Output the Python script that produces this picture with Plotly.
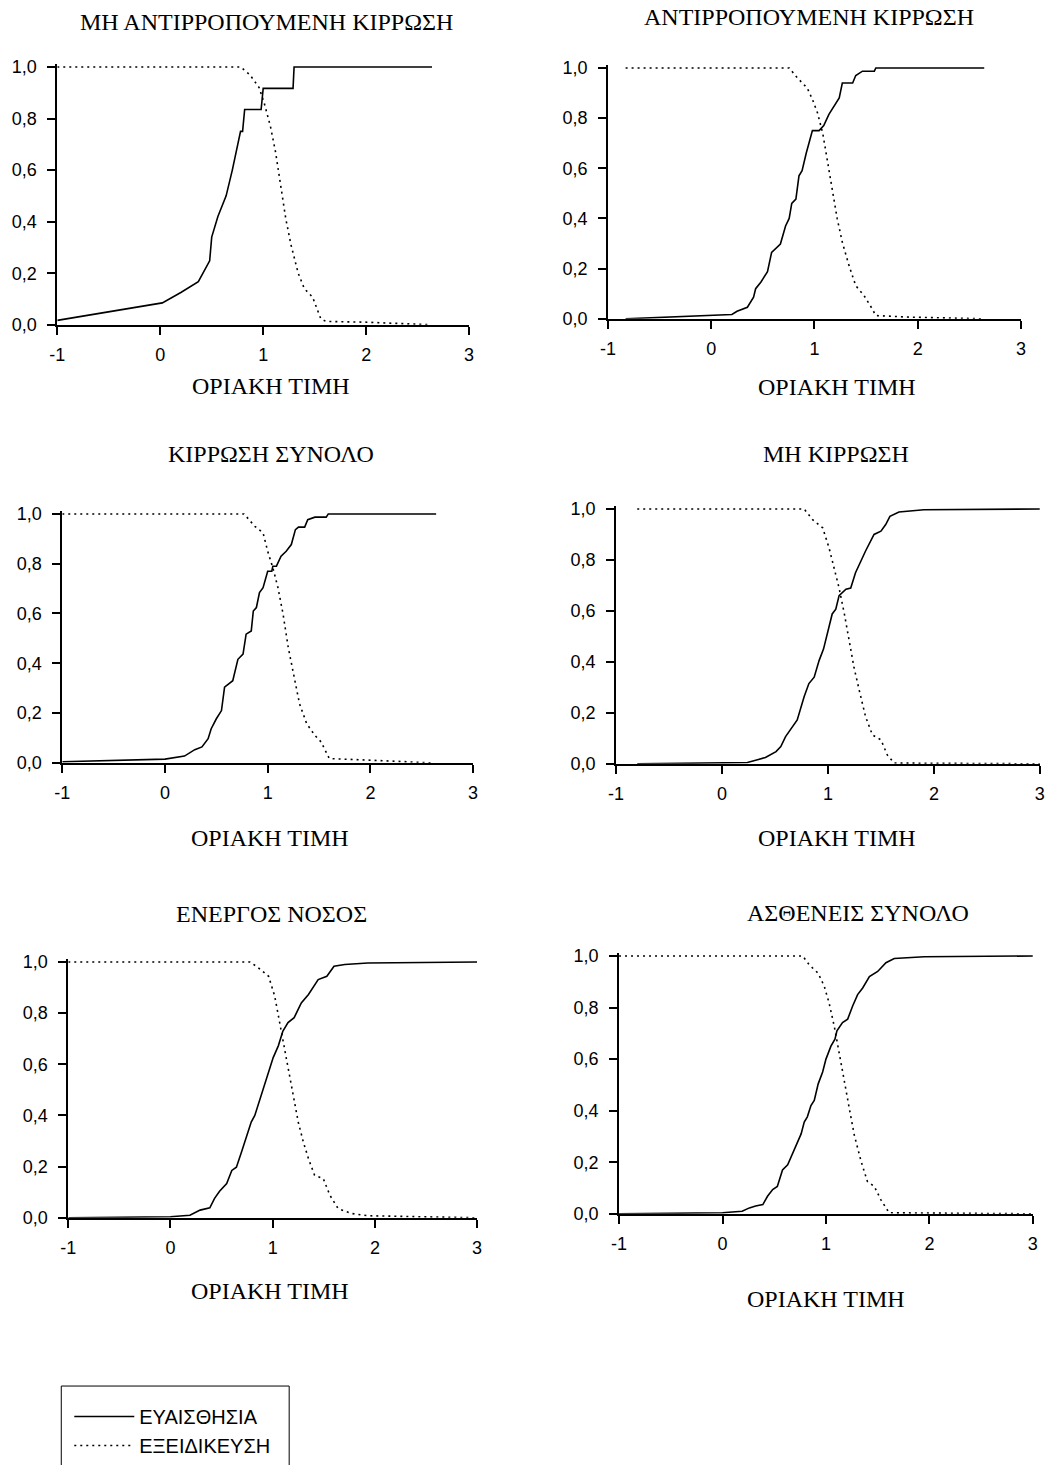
import plotly.graph_objects as go

W, H = 1047, 1465

# the returned photograph shows the page slightly inset; map reference pixels to figure pixels
SX, OX = 0.988, 6.7
SY, OY = 0.9887, 6.8


def fx(px):
    return ((px - OX) / SX) / W


def fy(py):
    return 1 - ((py - OY) / SY) / H


# ---------------- data ----------------
titles = ["ΜΗ ΑΝΤΙΡΡΟΠΟΥΜΕΝΗ ΚΙΡΡΩΣΗ", "ΑΝΤΙΡΡΟΠΟΥΜΕΝΗ ΚΙΡΡΩΣΗ",
          "ΚΙΡΡΩΣΗ ΣΥΝΟΛΟ", "ΜΗ ΚΙΡΡΩΣΗ",
          "ΕΝΕΡΓΟΣ ΝΟΣΟΣ", "ΑΣΘΕΝΕΙΣ ΣΥΝΟΛΟ"]
x_title = "ΟΡΙΑΚΗ ΤΙΜΗ"
series_names = ["ΕΥΑΙΣΘΗΣΙΑ", "ΕΞΕΙΔΙΚΕΥΣΗ"]
x_ticks = [-1, 0, 1, 2, 3]
y_ticks = [0, 0.2, 0.4, 0.6, 0.8, 1.0]

# panel 1: ΜΗ ΑΝΤΙΡΡΟΠΟΥΜΕΝΗ ΚΙΡΡΩΣΗ
p1_sens_x = [-1, 0.02, 0.2, 0.37, 0.48, 0.5, 0.56, 0.64, 0.70, 0.78, 0.80, 0.82, 0.98, 1.00, 1.29, 1.30, 2.64]
p1_sens_y = [0.017, 0.085, 0.125, 0.167, 0.248, 0.34, 0.42, 0.5, 0.6, 0.75, 0.75, 0.835, 0.835, 0.917, 0.917, 1.0, 1.0]
p1_spec_x = [-1, 0.78, 0.87, 0.96, 1.01, 1.07, 1.12, 1.17, 1.22, 1.27, 1.34, 1.40, 1.48, 1.56, 1.61, 2.01, 2.63]
p1_spec_y = [1.0, 1.0, 0.97, 0.92, 0.86, 0.77, 0.67, 0.54, 0.41, 0.31, 0.2, 0.14, 0.107, 0.023, 0.013, 0.01, 0.0]

# panel 2: ΑΝΤΙΡΡΟΠΟΥΜΕΝΗ ΚΙΡΡΩΣΗ
p2_sens_x = [-0.83, 0.0, 0.2, 0.25, 0.35, 0.41, 0.43, 0.48, 0.545, 0.585, 0.67, 0.72, 0.755, 0.78, 0.82, 0.85, 0.88,
             0.92, 0.95, 0.98, 1.045, 1.09, 1.14, 1.19, 1.24, 1.27, 1.37, 1.40, 1.465, 1.58, 1.595, 2.645]
p2_sens_y = [0.0, 0.013, 0.017, 0.03, 0.046, 0.086, 0.12, 0.146, 0.188, 0.265, 0.298, 0.37, 0.40, 0.46, 0.477, 0.57,
             0.59, 0.66, 0.70, 0.75, 0.75, 0.77, 0.815, 0.848, 0.88, 0.94, 0.94, 0.97, 0.987, 0.987, 1.0, 1.0]
p2_spec_x = [-0.83, 0.755, 0.835, 0.93, 0.98, 1.03, 1.08, 1.125, 1.175, 1.22, 1.27, 1.335, 1.40, 1.48, 1.55, 1.595, 1.90, 2.645]
p2_spec_y = [1.0, 1.0, 0.96, 0.92, 0.875, 0.82, 0.74, 0.636, 0.517, 0.40, 0.305, 0.212, 0.132, 0.093, 0.046, 0.013, 0.007, 0.0]

# panel 3: ΚΙΡΡΩΣΗ ΣΥΝΟΛΟ
p3_sens_x = [-1, 0.0, 0.19, 0.29, 0.36, 0.42, 0.45, 0.50, 0.55, 0.58, 0.66, 0.71, 0.76, 0.79, 0.84, 0.86, 0.89, 0.92,
             0.955, 1.0, 1.04, 1.05, 1.085, 1.13, 1.18, 1.23, 1.27, 1.30, 1.36, 1.39, 1.46, 1.57, 1.59, 2.64]
p3_sens_y = [0.004, 0.015, 0.027, 0.053, 0.064, 0.097, 0.137, 0.177, 0.21, 0.304, 0.33, 0.416, 0.437, 0.517, 0.53, 0.61,
             0.624, 0.684, 0.704, 0.77, 0.77, 0.79, 0.79, 0.83, 0.85, 0.877, 0.937, 0.947, 0.947, 0.977, 0.987, 0.987, 1.0, 1.0]
p3_spec_x = [-1, 0.77, 0.875, 0.955, 1.0, 1.05, 1.10, 1.15, 1.20, 1.25, 1.31, 1.38, 1.46, 1.52, 1.60, 1.98, 2.59]
p3_spec_y = [1.0, 1.0, 0.95, 0.924, 0.85, 0.784, 0.704, 0.597, 0.464, 0.357, 0.237, 0.157, 0.11, 0.084, 0.017, 0.011, 0.0]

# panel 4: ΜΗ ΚΙΡΡΩΣΗ
p4_sens_x = [-0.80, 0.005, 0.24, 0.335, 0.41, 0.51, 0.555, 0.60, 0.665, 0.71, 0.775, 0.82, 0.87, 0.917, 0.958, 0.995,
             1.04, 1.074, 1.105, 1.17, 1.215, 1.26, 1.31, 1.355, 1.435, 1.50, 1.545, 1.585, 1.67, 1.905, 3.0]
p4_sens_y = [0.0, 0.003, 0.005, 0.016, 0.025, 0.048, 0.068, 0.107, 0.146, 0.172, 0.263, 0.315, 0.34, 0.406, 0.45, 0.51,
             0.588, 0.607, 0.66, 0.685, 0.69, 0.75, 0.796, 0.835, 0.9, 0.913, 0.939, 0.971, 0.988, 0.997, 1.0]
p4_spec_x = [-0.8, 0.775, 0.855, 0.95, 1.01, 1.06, 1.105, 1.155, 1.20, 1.245, 1.295, 1.355, 1.42, 1.50, 1.56, 1.625, 3.0]
p4_spec_y = [1.0, 1.0, 0.958, 0.926, 0.848, 0.77, 0.69, 0.588, 0.484, 0.38, 0.289, 0.185, 0.113, 0.094, 0.035, 0.003, 0.0]

# panel 5: ΕΝΕΡΓΟΣ ΝΟΣΟΣ
p5_sens_x = [-1, 0.0, 0.19, 0.29, 0.385, 0.43, 0.48, 0.55, 0.60, 0.645, 0.695, 0.76, 0.79, 0.825, 0.86, 0.90, 0.93,
             0.97, 1.005, 1.055, 1.10, 1.15, 1.21, 1.28, 1.35, 1.445, 1.53, 1.60, 1.705, 1.93, 3.0]
p5_sens_y = [0.0, 0.004, 0.01, 0.03, 0.039, 0.075, 0.104, 0.134, 0.185, 0.198, 0.257, 0.335, 0.374, 0.40, 0.445, 0.49,
             0.536, 0.581, 0.626, 0.672, 0.73, 0.763, 0.782, 0.84, 0.873, 0.931, 0.944, 0.983, 0.99, 0.996, 1.0]
p5_spec_x = [-1, 0.78, 0.86, 0.96, 1.02, 1.055, 1.10, 1.15, 1.20, 1.25, 1.30, 1.35, 1.41, 1.495, 1.56, 1.64, 1.77, 1.93, 3.0]
p5_spec_y = [1.0, 1.0, 0.977, 0.944, 0.866, 0.79, 0.685, 0.58, 0.477, 0.374, 0.296, 0.231, 0.166, 0.153, 0.088, 0.036,
             0.017, 0.008, 0.0]

# panel 6: ΑΣΘΕΝΕΙΣ ΣΥΝΟΛΟ
p6_sens_x = [-1, 0.0, 0.19, 0.26, 0.32, 0.39, 0.435, 0.485, 0.53, 0.58, 0.63, 0.69, 0.76, 0.79, 0.82, 0.855, 0.887,
             0.925, 0.968, 1.0, 1.048, 1.087, 1.106, 1.16, 1.21, 1.258, 1.306, 1.355, 1.42, 1.50, 1.58, 1.66, 1.95, 3.0]
p6_sens_y = [0.0, 0.004, 0.01, 0.023, 0.03, 0.036, 0.068, 0.094, 0.106, 0.17, 0.19, 0.247, 0.31, 0.356, 0.376, 0.42,
             0.44, 0.504, 0.55, 0.60, 0.65, 0.677, 0.71, 0.742, 0.755, 0.806, 0.85, 0.876, 0.92, 0.94, 0.974, 0.99, 0.997, 1.0]
p6_spec_x = [-1, 0.775, 0.84, 0.925, 0.984, 1.03, 1.08, 1.13, 1.18, 1.226, 1.274, 1.34, 1.40, 1.468, 1.53, 1.61, 3.0]
p6_spec_y = [1.0, 1.0, 0.965, 0.933, 0.882, 0.818, 0.728, 0.626, 0.51, 0.408, 0.305, 0.203, 0.126, 0.106, 0.055, 0.004, 0.0]

panels = [
    (p1_sens_x, p1_sens_y, p1_spec_x, p1_spec_y),
    (p2_sens_x, p2_sens_y, p2_spec_x, p2_spec_y),
    (p3_sens_x, p3_sens_y, p3_spec_x, p3_spec_y),
    (p4_sens_x, p4_sens_y, p4_spec_x, p4_spec_y),
    (p5_sens_x, p5_sens_y, p5_spec_x, p5_spec_y),
    (p6_sens_x, p6_sens_y, p6_spec_x, p6_spec_y),
]

# ---------------- layout geometry (reference pixels) ----------------
# (x_left, x_right, y_of_1.0, y_of_0.0)
boxes = [(56, 468, 67, 326), (607, 1020, 68, 320),
         (61, 472, 516, 766), (615, 1039, 511, 767),
         (67, 476, 966, 1223), (618, 1032, 960, 1219)]
title_pos = [(265, 22), (808, 17), (270, 456), (835, 456), (270, 918), (857, 917)]
xtitle_pos = [(270, 387), (836, 388), (269, 842), (836, 842), (269, 1297), (825, 1305)]

YTOP = 1.01
SANS = "Liberation Sans, Arial, sans-serif"
SERIF = "Liberation Serif, Times New Roman, serif"

fig = go.Figure()
layout = dict(width=W, height=H, margin=dict(l=0, r=0, t=0, b=0),
              paper_bgcolor="white", plot_bgcolor="white",
              separators=",.", showlegend=True)
annotations = []

for i, (b, d) in enumerate(zip(boxes, panels)):
    n = "" if i == 0 else str(i + 1)
    xl, xr, y1, y0 = b
    unit = y0 - y1
    ytop_px = y0 - unit * YTOP
    axis_common = dict(showgrid=False, zeroline=False, showline=True,
                       linecolor="black", linewidth=1.8, ticks="outside",
                       ticklen=8, tickwidth=1.5, tickcolor="black",
                       tickfont=dict(family=SANS, size=18, color="black"))
    layout["xaxis" + n] = dict(domain=[fx(xl), fx(xr)], range=[-1, 3], anchor="y" + n,
                               tickvals=x_ticks, ticktext=[str(v) for v in x_ticks],
                               ticklabelstandoff=5, **axis_common)
    layout["yaxis" + n] = dict(domain=[fy(y0), fy(ytop_px)], range=[0, YTOP], anchor="x" + n,
                               tickvals=y_ticks, tickformat=".1f",
                               ticklabelstandoff=7, **axis_common)
    sx, sy, px, py = d
    fig.add_trace(go.Scatter(x=sx, y=sy, mode="lines", name=series_names[0],
                             line=dict(color="black", width=1.6),
                             xaxis="x" + n, yaxis="y" + n, showlegend=(i == 0)))
    fig.add_trace(go.Scatter(x=px, y=py, mode="lines", name=series_names[1],
                             line=dict(color="black", width=1.6, dash="2px,4px"),
                             xaxis="x" + n, yaxis="y" + n, showlegend=(i == 0)))
    tx, ty = title_pos[i]
    annotations.append(dict(text=titles[i], x=fx(tx), y=fy(ty), xref="paper", yref="paper",
                            xanchor="center", yanchor="middle", showarrow=False,
                            font=dict(family=SERIF, size=24, color="black")))
    ax, ay = xtitle_pos[i]
    annotations.append(dict(text=x_title, x=fx(ax), y=fy(ay), xref="paper", yref="paper",
                            xanchor="center", yanchor="middle", showarrow=False,
                            font=dict(family=SERIF, size=24, color="black")))

layout["annotations"] = annotations
layout["shapes"] = [dict(type="rect", xref="paper", yref="paper",
                         x0=fx(60), x1=fx(288), y0=-0.05, y1=fy(1392),
                         line=dict(color="black", width=1), fillcolor="rgba(0,0,0,0)")]
layout["legend"] = dict(x=fx(68), y=fy(1403), xanchor="left", yanchor="top",
                        bgcolor="rgba(0,0,0,0)", borderwidth=0, itemwidth=60,
                        font=dict(family=SANS, size=20, color="black"),
                        tracegroupgap=0)
fig.update_layout(**layout)

page_css = ("document.documentElement.style.margin='0';"
            "document.documentElement.style.padding='0';"
            "document.documentElement.style.overflow='hidden';"
            "document.body.style.margin='0';"
            "document.body.style.padding='0';"
            "document.body.style.overflow='hidden';")
fig.write_html("out.html", post_script=page_css)
